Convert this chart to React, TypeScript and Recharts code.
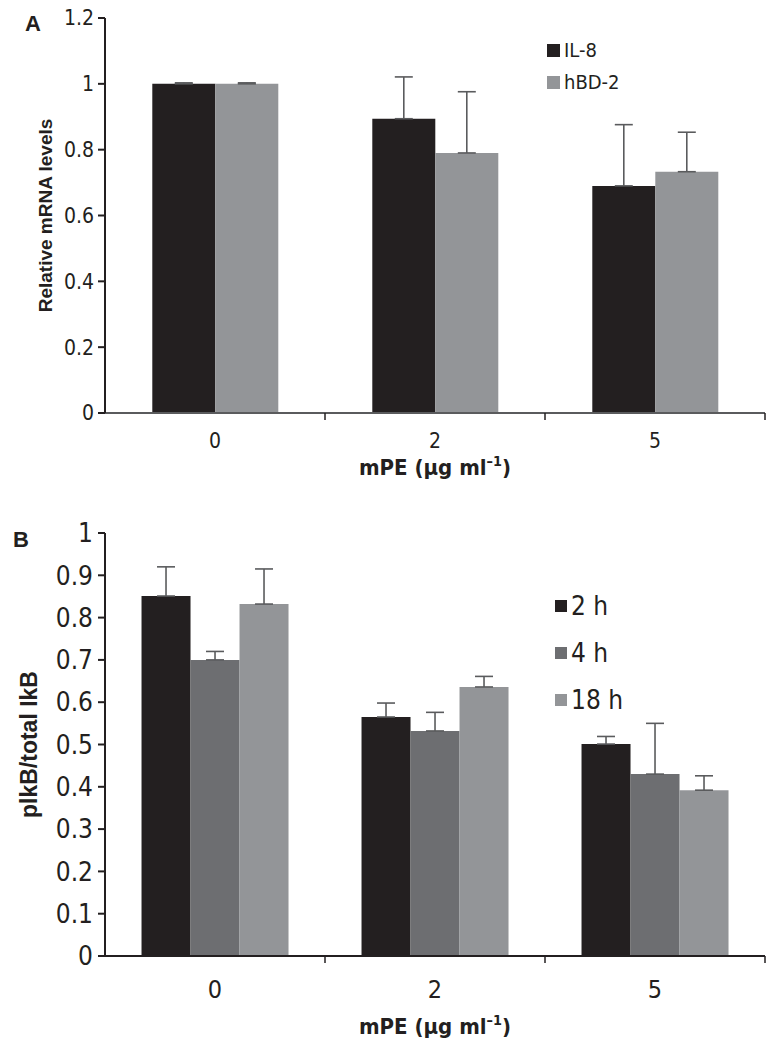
import { BarChart, Bar, XAxis, YAxis, ErrorBar, Legend, Label } from 'recharts';

// panel A: relative mRNA levels
const dosesA = ['0', '2', '5'];
const il8 = [1.0, 0.894, 0.69];
const il8Err = [0.003, 0.127, 0.186];
const hbd2 = [1.0, 0.79, 0.733];
const hbd2Err = [0.003, 0.186, 0.12];
const ticksA = [0, 0.2, 0.4, 0.6, 0.8, 1, 1.2];
const keysA = ['IL-8', 'hBD-2'];

// panel B: pIkB / total IkB
const dosesB = ['0', '2', '5'];
const h2 = [0.851, 0.565, 0.501];
const h2Err = [0.069, 0.033, 0.018];
const h4 = [0.7, 0.532, 0.43];
const h4Err = [0.02, 0.044, 0.12];
const h18 = [0.832, 0.636, 0.392];
const h18Err = [0.083, 0.025, 0.034];
const ticksB = [0, 0.1, 0.2, 0.3, 0.4, 0.5, 0.6, 0.7, 0.8, 0.9, 1];
const keysB = ['2 h', '4 h', '18 h'];

const BLACK = '#231f20';
const DARK = '#6d6e71';
const GREY = '#939598';
const ERR = '#5a5b5d';
const NARROW = "'Liberation Sans Narrow', 'DejaVu Sans Condensed', Roboto, sans-serif";
const BOLD = "'Liberation Sans', Arial, sans-serif";

const dataA = dosesA.map((d, i) => ({
  dose: d,
  il8: il8[i],
  il8Err: [0, il8Err[i]],
  hbd2: hbd2[i],
  hbd2Err: [0, hbd2Err[i]],
}));

const dataB = dosesB.map((d, i) => ({
  dose: d,
  h2: h2[i],
  h2Err: [0, h2Err[i]],
  h4: h4[i],
  h4Err: [0, h4Err[i]],
  h18: h18[i],
  h18Err: [0, h18Err[i]],
}));

// category label in the middle, tick mark on the band's right edge
function BandTick(props: any) {
  const { x, y, payload, width, fontSize, dy, count } = props;
  const half = payload.offset || width / count / 2;
  return (
    <g>
      <line x1={x + half} x2={x + half} y1={y} y2={y + 7} stroke={BLACK} strokeWidth={1.5} />
      <text x={x} y={y + dy} textAnchor="middle" fontFamily={NARROW} fontSize={fontSize} fill={BLACK}>
        {payload.value}
      </text>
    </g>
  );
}

function DoseTitle(props: any) {
  const { viewBox, dy, fontSize } = props;
  return (
    <text
      x={viewBox.x + viewBox.width / 2}
      y={viewBox.y + dy}
      textAnchor="middle"
      fontFamily={NARROW}
      fontWeight="bold"
      fontSize={fontSize}
      fill={BLACK}
    >
      mPE (µg ml
      <tspan fontSize={fontSize * 0.65} dy={-fontSize * 0.4}>–1</tspan>
      <tspan dy={fontSize * 0.4}>)</tspan>
    </text>
  );
}

function SideTitle(props: any) {
  const { viewBox, value, cx, fontSize } = props;
  const cy = viewBox.y + viewBox.height / 2;
  return (
    <text
      x={cx}
      y={cy}
      transform={`rotate(-90 ${cx} ${cy})`}
      textAnchor="middle"
      dominantBaseline="central"
      fontFamily={BOLD}
      fontWeight="bold"
      fontSize={fontSize}
      fill={BLACK}
    >
      {value}
    </text>
  );
}

function KeyList(props: any) {
  const { payload, gap, fontSize, box, order } = props;
  const items = order
    .map((name: string) => (payload || []).find((p: any) => p.value === name))
    .filter(Boolean);
  return (
    <div>
      {items.map((p: any) => (
        <div key={p.value} style={{ display: 'flex', alignItems: 'center', height: gap }}>
          <span style={{ width: box, height: box, background: p.color, marginRight: 4 }} />
          <span style={{ fontFamily: NARROW, fontSize, color: BLACK }}>{p.value}</span>
        </div>
      ))}
    </div>
  );
}

const letter = (t: string, left: number, top: number) => (
  <div style={{ position: 'absolute', left, top, fontFamily: BOLD, fontWeight: 'bold', fontSize: 22, color: BLACK }}>
    {t}
  </div>
);

export default function App() {
  return (
    <div style={{ position: 'absolute', left: 0, top: 0, width: 767, height: 1050, background: '#fff' }}>
      <div style={{ position: 'absolute', left: 0, top: 0 }}>
        <BarChart width={767} height={490} data={dataA} margin={{ top: 18, right: 2, bottom: 0, left: 0 }} barCategoryGap="21.5%" barGap={0}>
          <XAxis
            dataKey="dose"
            height={77}
            tickLine={false}
            tickSize={0}
            tickMargin={0}
            stroke={ERR}
            strokeWidth={2}
            tick={<BandTick fontSize={21} dy={35} count={dosesA.length} />}
          >
            <Label content={<DoseTitle dy={62} fontSize={22} />} />
          </XAxis>
          <YAxis
            width={105}
            domain={[0, 1.2]}
            ticks={ticksA}
            interval={0}
            stroke={BLACK}
            strokeWidth={2}
            tickSize={7}
            tickMargin={4}
            tick={{ fontFamily: NARROW, fontSize: 21, fill: BLACK }}
          >
            <Label content={<SideTitle value="Relative mRNA levels" cx={45} fontSize={19} />} />
          </YAxis>
          <Legend
            layout="horizontal"
            verticalAlign="middle"
            align="center"
            wrapperStyle={{ left: 547, top: 34, width: 120 }}
            content={<KeyList gap={32} fontSize={20} box={13} order={keysA} />}
          />
          <Bar dataKey="il8" name="IL-8" fill={BLACK} isAnimationActive={false}>
            <ErrorBar dataKey="il8Err" width={9} stroke={ERR} strokeWidth={1.6} />
          </Bar>
          <Bar dataKey="hbd2" name="hBD-2" fill={GREY} isAnimationActive={false}>
            <ErrorBar dataKey="hbd2Err" width={9} stroke={ERR} strokeWidth={1.6} />
          </Bar>
        </BarChart>
      </div>

      <div style={{ position: 'absolute', left: 0, top: 490 }}>
        <BarChart width={767} height={560} data={dataB} margin={{ top: 43, right: 2, bottom: 0, left: 0 }} barCategoryGap="16.6%" barGap={0}>
          <XAxis
            dataKey="dose"
            height={94}
            tickLine={false}
            tickSize={0}
            tickMargin={0}
            stroke={BLACK}
            strokeWidth={2}
            tick={<BandTick fontSize={25} dy={42} count={dosesB.length} />}
          >
            <Label content={<DoseTitle dy={78} fontSize={22} />} />
          </XAxis>
          <YAxis
            width={105}
            domain={[0, 1]}
            ticks={ticksB}
            interval={0}
            stroke={BLACK}
            strokeWidth={2}
            tickSize={7}
            tickMargin={5}
            tick={{ fontFamily: NARROW, fontSize: 26, fill: BLACK }}
          >
            <Label content={<SideTitle value="plkB/total IkB" cx={29} fontSize={23} />} />
          </YAxis>
          <Legend
            layout="horizontal"
            verticalAlign="middle"
            align="center"
            wrapperStyle={{ left: 555, top: 92, width: 120 }}
            content={<KeyList gap={47} fontSize={26} box={12} order={keysB} />}
          />
          <Bar dataKey="h2" name="2 h" fill={BLACK} isAnimationActive={false}>
            <ErrorBar dataKey="h2Err" width={9} stroke={ERR} strokeWidth={1.6} />
          </Bar>
          <Bar dataKey="h4" name="4 h" fill={DARK} isAnimationActive={false}>
            <ErrorBar dataKey="h4Err" width={9} stroke={ERR} strokeWidth={1.6} />
          </Bar>
          <Bar dataKey="h18" name="18 h" fill={GREY} isAnimationActive={false}>
            <ErrorBar dataKey="h18Err" width={9} stroke={ERR} strokeWidth={1.6} />
          </Bar>
        </BarChart>
      </div>

      {letter('A', 25, 11)}
      {letter('B', 13, 527)}
    </div>
  );
}
